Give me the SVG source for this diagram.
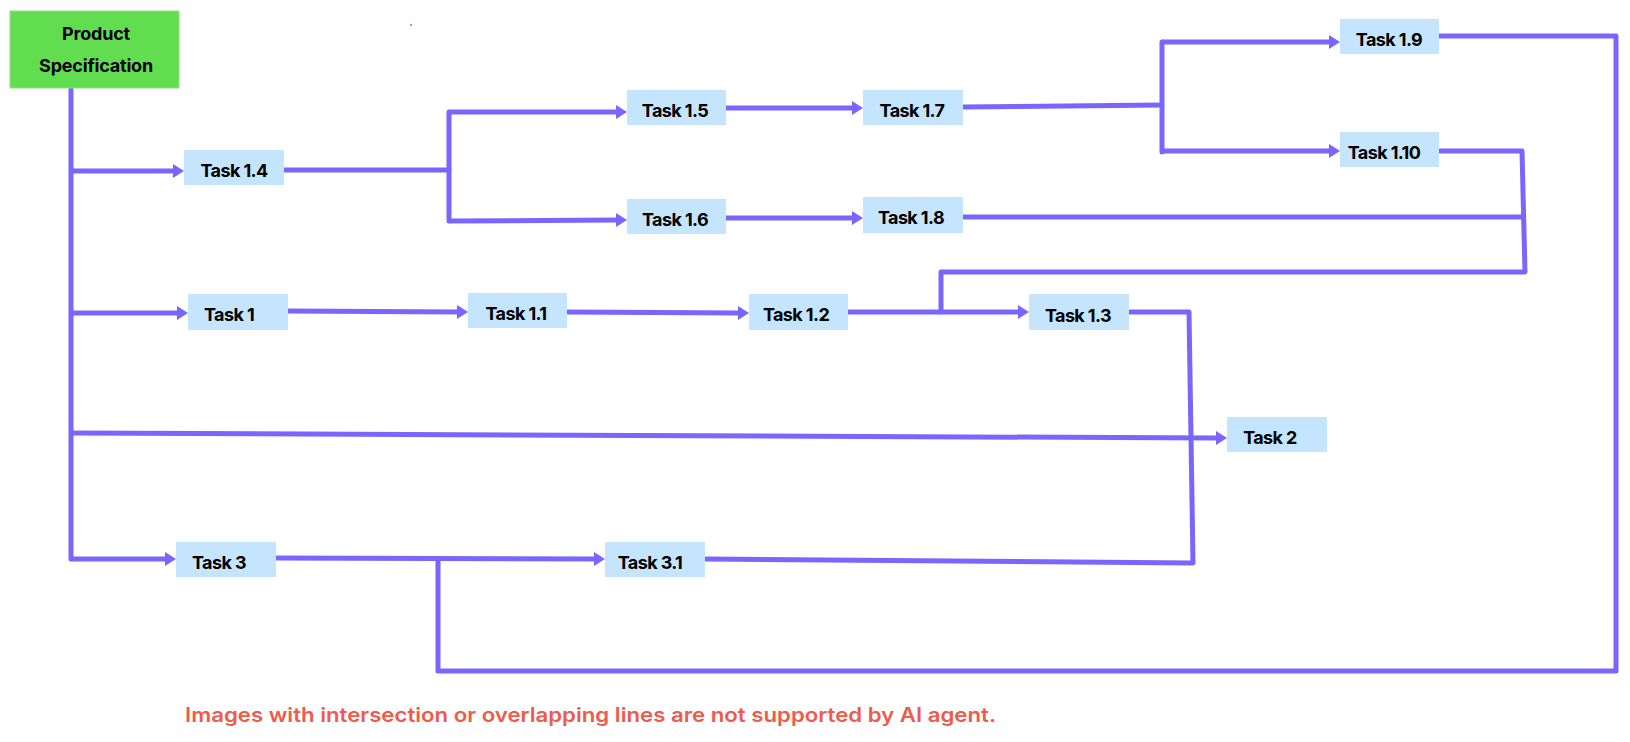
<svg xmlns="http://www.w3.org/2000/svg" width="1630" height="742" viewBox="0 0 1630 742">
<style>
.box{fill:#c4e5fd;}
.start{fill:#63dd50;stroke:#8ae67a;stroke-width:1;}
.lbl{font-family:Inter,"Liberation Sans",sans-serif;font-weight:700;font-size:18px;fill:#000;text-anchor:middle;letter-spacing:-0.6px;}
.ln{fill:none;stroke:#7966fc;stroke-width:5;stroke-linejoin:round;stroke-linecap:round;}
.ar{fill:none;stroke:#7966fc;stroke-width:5;stroke-linejoin:round;stroke-linecap:butt;marker-end:url(#arr);}
.note{font-family:Inter,"Liberation Sans",sans-serif;font-weight:600;font-size:20px;fill:#f05a4b;}
</style>
<defs>
<marker id="arr" markerUnits="userSpaceOnUse" markerWidth="13" markerHeight="16" refX="2" refY="8" orient="auto">
<path d="M0,1 L11,8 L0,15 z" fill="#7966fc"/>
</marker>
</defs>
<rect width="1630" height="742" fill="#fff"/>
<circle cx="411" cy="25" r="1" fill="#f05a4b"/>
<g id="connectors">
<path class="ln" d="M71,88 V559"/>
<path class="ar" d="M71,559 H167"/>
<path class="ar" d="M71,171 H175"/>
<path class="ar" d="M71,313 H179"/>
<path class="ar" d="M71,433 L1218,438"/>
<path class="ln" d="M284,170 H449"/>
<path class="ln" d="M449,112 V221"/>
<path class="ar" d="M449,112 H618"/>
<path class="ar" d="M449,221 L618,220"/>
<path class="ar" d="M726,108 H854"/>
<path class="ar" d="M726,218 H854"/>
<path class="ln" d="M963,107 L1162,105"/>
<path class="ln" d="M1162,42 V152"/>
<path class="ar" d="M1162,42 H1331"/>
<path class="ar" d="M1162,151 H1331"/>
<path class="ln" d="M1439,36 H1616 V671 H438 V559"/>
<path class="ar" d="M276,558 L596,559"/>
<path class="ln" d="M705,559 L1193,563 L1189,312 H1129"/>
<path class="ln" d="M1439,151 H1522 L1525,272 H941 V312"/>
<path class="ln" d="M963,217 H1522"/>
<path class="ar" d="M288,311 L459,312"/>
<path class="ar" d="M567,312 L740,313"/>
<path class="ar" d="M848,312 H1020"/>
</g>
<g id="n-spec"><rect class="start" x="10" y="11" width="169" height="77"/><text class="lbl" x="96" y="40" style="letter-spacing:-0.2px">Product</text><text class="lbl" x="96" y="72" style="letter-spacing:-0.2px">Specification</text></g>
<g id="n-t14"><rect class="box" x="184" y="150" width="100" height="35"/><text class="lbl" x="234" y="177">Task 1.4</text></g>
<g id="n-t15"><rect class="box" x="627" y="90" width="99" height="35"/><text class="lbl" x="675" y="117">Task 1.5</text></g>
<g id="n-t16"><rect class="box" x="627" y="199" width="99" height="35"/><text class="lbl" x="675" y="226">Task 1.6</text></g>
<g id="n-t17"><rect class="box" x="863" y="90" width="100" height="35"/><text class="lbl" x="912" y="117">Task 1.7</text></g>
<g id="n-t18"><rect class="box" x="863" y="197" width="100" height="36"/><text class="lbl" x="911" y="224">Task 1.8</text></g>
<g id="n-t19"><rect class="box" x="1340" y="19" width="99" height="35"/><text class="lbl" x="1389" y="46">Task 1.9</text></g>
<g id="n-t110"><rect class="box" x="1340" y="132" width="99" height="35"/><text class="lbl" x="1384" y="159">Task 1.10</text></g>
<g id="n-t1"><rect class="box" x="188" y="294" width="100" height="36"/><text class="lbl" x="229" y="321">Task 1</text></g>
<g id="n-t11"><rect class="box" x="468" y="293" width="99" height="35"/><text class="lbl" x="516" y="320">Task 1.1</text></g>
<g id="n-t12"><rect class="box" x="749" y="294" width="99" height="36"/><text class="lbl" x="796" y="321">Task 1.2</text></g>
<g id="n-t13"><rect class="box" x="1029" y="294" width="100" height="36"/><text class="lbl" x="1078" y="322">Task 1.3</text></g>
<g id="n-t2"><rect class="box" x="1227" y="417" width="100" height="35"/><text class="lbl" x="1270" y="444">Task 2</text></g>
<g id="n-t3"><rect class="box" x="176" y="542" width="100" height="35"/><text class="lbl" x="219" y="569">Task 3</text></g>
<g id="n-t31"><rect class="box" x="605" y="542" width="100" height="35"/><text class="lbl" x="650" y="569">Task 3.1</text></g>
<text class="note" x="185" y="722" textLength="811" lengthAdjust="spacingAndGlyphs">Images with intersection or overlapping lines are not supported by AI agent.</text>
</svg>
